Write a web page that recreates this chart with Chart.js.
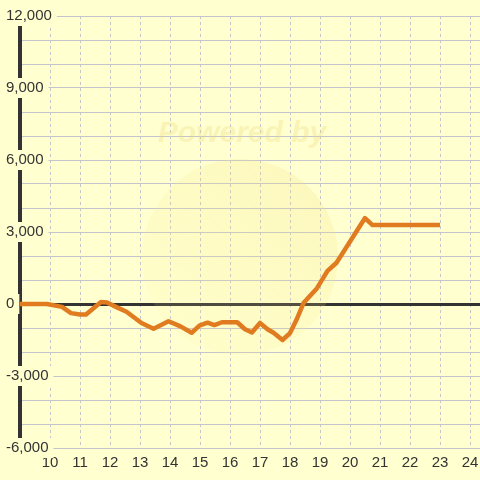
<!DOCTYPE html>
<html>
<head>
<meta charset="utf-8">
<script src="https://cdn.jsdelivr.net/npm/chart.js@4"></script>
<style>
  html, body { margin: 0; padding: 0; background: #FFFFD0; }
  #wrap { width: 480px; height: 480px; }
</style>
</head>
<body>
<div id="wrap"><canvas id="chart" width="480" height="480"></canvas></div>
<script>
// ---- data ----
const hours  = [9, 9.9, 10.4, 10.7, 11.0, 11.2, 11.7, 11.9, 12.25, 12.55, 13.05, 13.45,
                13.95, 14.35, 14.72, 14.98, 15.25, 15.48, 15.73, 16.24, 16.5, 16.73,
                17.0, 17.25, 17.45, 17.75, 18.0, 18.22, 18.45, 18.9, 19.25, 19.55,
                20.5, 20.75, 23.0];
const values = [0, 0, -120, -380, -440, -440, 80, 60, -150, -320, -790, -1030,
                -720, -930, -1200, -900, -780, -880, -760, -760, -1050, -1190,
                -790, -1050, -1200, -1500, -1210, -650, 40, 660, 1380, 1720,
                3580, 3290, 3290];

const xRange = [9, 24.333];
const yRange = [-6000, 12000];
const yLabelEvery = 3000;

const BG    = '#FFFFD0';
const GRID  = '#C4C4CC';
const INK   = '#333333';
const LINE  = '#E07B20';
const FONT  = { family: 'Liberation Sans, Arial, sans-serif', size: 15 };

// faint "Powered by" stamp behind the line
const watermark = {
    id: 'watermark',
    beforeDatasetsDraw(chart) {
        const ctx = chart.ctx;
        ctx.save();
        const g = ctx.createLinearGradient(160, 340, 320, 170);
        g.addColorStop(0, 'rgba(255,240,150,0.10)');
        g.addColorStop(1, 'rgba(240,220,120,0.22)');
        ctx.fillStyle = g;
        ctx.beginPath();
        ctx.arc(240, 257, 98, 0, Math.PI * 2);
        ctx.fill();
        ctx.font = 'italic bold 30px "Liberation Sans", Arial, sans-serif';
        ctx.fillStyle = 'rgba(235,215,120,0.30)';
        ctx.textAlign = 'center';
        ctx.textBaseline = 'middle';
        ctx.fillText('Powered by', 242, 134);
        ctx.restore();
    }
};

new Chart(document.getElementById('chart'), {
    type: 'line',
    data: {
        datasets: [{
            data: hours.map((h, i) => ({ x: h, y: values[i] })),
            borderColor: LINE,
            borderWidth: 4.5,
            borderJoinStyle: 'round',
            borderCapStyle: 'butt',
            pointRadius: 0,
            tension: 0,
            fill: false,
        }]
    },
    options: {
        responsive: false,
        animation: false,
        devicePixelRatio: 1,
        layout: { padding: { left: 20, top: 16, right: 0, bottom: 0 } },
        plugins: { legend: { display: false }, tooltip: { enabled: false } },
        scales: {
            x: {
                type: 'linear', position: 'bottom',
                min: xRange[0], max: xRange[1],
                grid: { color: GRID, lineWidth: 1, drawTicks: false },
                border: { display: false, dash: [3, 3] },
                ticks: {
                    stepSize: 1, includeBounds: false, autoSkip: false, maxRotation: 0,
                    padding: 6, color: INK, font: FONT,
                    callback: v => v === xRange[0] ? '' : v,
                },
                afterFit: s => { s.height = 32; s.paddingLeft = 0; s.paddingRight = 0; },
            },
            y: {
                min: yRange[0], max: yRange[1],
                grid: {
                    drawTicks: false,
                    color: c => c.tick && c.tick.value === 0 ? INK : GRID,
                    lineWidth: c => c.tick && c.tick.value === 0 ? 3 : 1,
                },
                border: { display: true, color: INK, width: 4 },
                ticks: {
                    stepSize: 1000, autoSkip: false, mirror: true, padding: -14,
                    color: INK, font: FONT,
                    showLabelBackdrop: true, backdropColor: BG,
                    backdropPadding: { top: 1, bottom: 1, left: 2, right: 5 },
                    callback: v => v % yLabelEvery === 0 ? v.toLocaleString('en-US') : '',
                },
                afterFit: s => { s.width = 0; },
            },
        },
    },
    plugins: [watermark],
});
</script>
</body>
</html>
